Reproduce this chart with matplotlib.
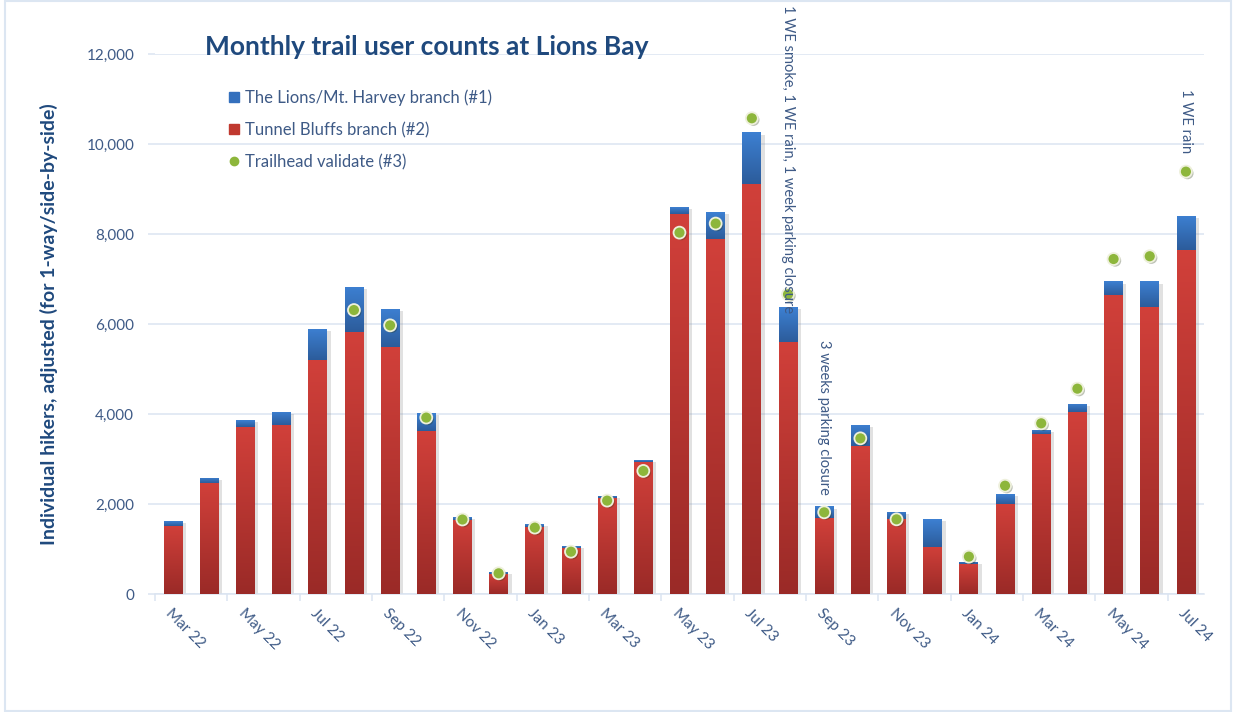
import numpy as np
import matplotlib
matplotlib.use("Agg")
import matplotlib.pyplot as plt
import matplotlib.patheffects as pe
from matplotlib.colors import LinearSegmentedColormap
from matplotlib.lines import Line2D
from matplotlib.patches import Rectangle

plt.rcParams['font.family'] = ['Lato', 'DejaVu Sans']

months = ["Mar 22", "Apr 22", "May 22", "Jun 22", "Jul 22", "Aug 22", "Sep 22", "Oct 22",
          "Nov 22", "Dec 22", "Jan 23", "Feb 23", "Mar 23", "Apr 23", "May 23", "Jun 23",
          "Jul 23", "Aug 23", "Sep 23", "Oct 23", "Nov 23", "Dec 23", "Jan 24", "Feb 24",
          "Mar 24", "Apr 24", "May 24", "Jun 24", "Jul 24"]
tunnel_bluffs = [1520, 2470, 3720, 3750, 5190, 5815, 5480, 3630,
                 1645, 440, 1496, 1030, 2133, 2941, 8454, 7891,
                 9112, 5611, 1685, 3289, 1659, 1052, 659, 2007,
                 3556, 4037, 6654, 6377, 7636]
lions_harvey = [110, 115, 150, 300, 710, 1015, 845, 390,
                60, 56, 52, 44, 45, 37, 154, 598,
                1144, 777, 260, 474, 163, 622, 60, 208,
                96, 178, 291, 568, 775]
trailhead = [np.nan, np.nan, np.nan, np.nan, np.nan, 6310, 5970, 3920,
             1655, 460, 1475, 940, 2075, 2735, 8030, 8232,
             10572, 6661, 1815, 3459, 1659, np.nan, 830, 2407,
             3793, 4563, 7444, 7506, 9386]
# (month index, note, pixel offset of text end above the bar top)
notes = [(17, "1 WE smoke, 1 WE rain, 1 week parking closure", -7),
         (18, "3 weeks parking closure", 12),
         (28, "1 WE rain", 62)]

txt_col = '#3e5a86'
dark_col = '#1f497d'
grid_col = '#dbe4f1'

fig = plt.figure(figsize=(12.33, 7.12), dpi=100)
ax = fig.add_axes([155/1233, 1 - 594/712, 1049/1233, 540/712])

x = np.arange(len(months))
shadow = [pe.SimplePatchShadow(offset=(2.5, -1.5), shadow_rgbFace='#8a8a8a', alpha=0.25), pe.Normal()]
red = ax.bar(x, tunnel_bluffs, width=0.52, color='#c0392f', zorder=2, path_effects=shadow)
blue = ax.bar(x, lions_harvey, width=0.52, bottom=tunnel_bluffs, color='#3470bd', zorder=2,
              path_effects=shadow)


def shade(bars, top, bottom):
    cmap = LinearSegmentedColormap.from_list('g', [bottom, top])
    grad = np.linspace(0, 1, 256).reshape(-1, 1)
    for b in bars:
        x0, y0, w, h = b.get_x(), b.get_y(), b.get_width(), b.get_height()
        im = ax.imshow(grad, cmap=cmap, origin='lower', extent=[x0, x0 + w, y0, y0 + h],
                       aspect='auto', zorder=3, interpolation='bilinear')
        im.set_clip_path(b)


shade(red, '#d1403a', '#9a2a27')
shade(blue, '#3d80d2', '#2c5c9b')

ax.scatter(x, trailhead, s=74, color='#8db63b', edgecolor='#eef0dc', linewidth=1.3, zorder=5,
           path_effects=[pe.SimplePatchShadow(offset=(1.2, -1.2), alpha=0.3), pe.Normal()])

totals = np.array(tunnel_bluffs) + np.array(lions_harvey)
for i, label, off in notes:
    ax.annotate(label, (i, totals[i]), xytext=(0, off), textcoords='offset pixels',
                rotation=270, ha='center', va='bottom', fontsize=10.5, color=txt_col, zorder=6)

ax.set_xlim(-0.5, len(months) - 0.5)
ax.set_ylim(0, 12000)
ax.set_yticks(np.arange(0, 12001, 2000))
ax.set_yticklabels([f"{v:,}" for v in range(0, 12001, 2000)])
ax.grid(axis='y', color=grid_col, linewidth=1.1, zorder=0)
ax.set_axisbelow(True)
for s in ['top', 'right', 'left']:
    ax.spines[s].set_visible(False)
ax.spines['bottom'].set_color(grid_col)
ax.spines['bottom'].set_linewidth(1.1)

ax.set_xticks(x[::2])
ax.set_xticklabels(months[::2], rotation=-45, ha='left', va='top', rotation_mode='anchor')
ax.set_xticks(np.arange(-0.5, len(months), 2), minor=True)
ax.tick_params(axis='x', which='major', length=0, pad=9, labelsize=11, labelcolor=txt_col)
ax.tick_params(axis='x', which='minor', length=5, color=grid_col, width=1.1)
ax.tick_params(axis='y', length=5, color=grid_col, width=1.1, pad=10, labelsize=11,
               labelcolor=txt_col)

ax.set_ylabel("Individual hikers, adjusted (for 1-way/side-by-side)", fontsize=14,
              fontweight='bold', color=dark_col)
ax.yaxis.set_label_coords(-0.092, 0.5)

fig.text(205/1233, 1 - 47/712, "Monthly trail user counts at Lions Bay", fontsize=19,
         fontweight='bold', color=dark_col, ha='left', va='center')

handles = [Line2D([], [], marker='s', linestyle='none', color='#3470bd', markersize=7.5),
           Line2D([], [], marker='s', linestyle='none', color='#c0392f', markersize=7.5),
           Line2D([], [], marker='o', linestyle='none', color='#8db63b', markersize=6)]
labels = ["The Lions/Mt. Harvey branch (#1)", "Tunnel Bluffs branch (#2)", "Trailhead validate (#3)"]
leg = fig.legend(handles, labels, loc='upper left', bbox_to_anchor=(221/1233, 1 - 83/712),
                 frameon=False, fontsize=12, handlelength=0.7, handletextpad=0.35,
                 labelspacing=0.95, borderaxespad=0)
for t in leg.get_texts():
    t.set_color(txt_col)

fig.patches.append(Rectangle((0.004, 0.002), 0.994, 0.996, transform=fig.transFigure,
                             fill=False, edgecolor='#dce6f2', linewidth=1.5))

fig.savefig("out.png", dpi=100)
